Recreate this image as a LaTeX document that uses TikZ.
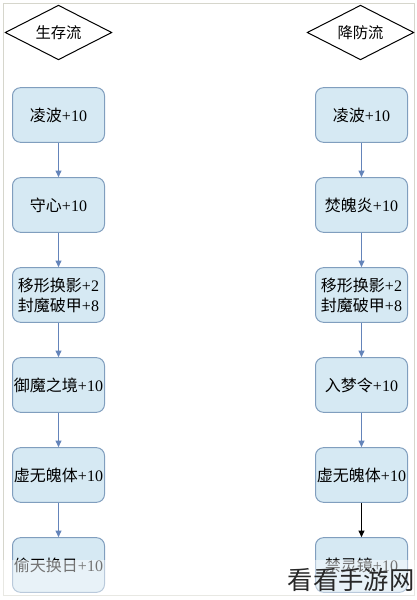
\documentclass[tikz,border=0pt]{standalone}
\usepackage{fontspec}
\setmainfont{Liberation Serif}
\newfontfamily\cjk{Noto Sans CJK SC}
\usetikzlibrary{shapes.geometric,arrows.meta}

\tikzset{every picture/.style={line width=0.75pt}}

\begin{document}
\begin{tikzpicture}[x=0.75pt,y=0.75pt,yscale=-1,xscale=1,
	flowhead/.style={draw=black, fill=white, diamond, aspect=2, inner sep=0pt, minimum width=80pt, minimum height=41pt, font=\fontsize{11.5}{14}\selectfont},
	stepbox/.style={draw={rgb, 255:red, 128; green, 158; blue, 190 }, fill={rgb, 255:red, 214; green, 233; blue, 243 }, rounded corners=6pt, minimum width=69pt, minimum height=41pt, inner sep=1pt, align=center, font=\fontsize{12}{15}\selectfont},
	link/.style={draw={rgb, 255:red, 100; green, 132; blue, 186 }, -{Triangle[length=5pt,width=4.5pt]}},
	darklink/.style={draw=black, -{Triangle[length=5pt,width=4.5pt]}}]
		\useasboundingbox (0,0) rectangle (417,600);
		%Shape: Frame
		\draw [draw={rgb, 255:red, 214; green, 214; blue, 204 }]  (3,3) -- (414,3) -- (414,595) -- (3,595) -- cycle ;
		
		%Shape: Diamond
		\node [flowhead] (lhead) at (58.5,32.5) {\cjk 生存流};
		\node [flowhead] (rhead) at (360.5,32.5) {\cjk 降防流};
		
		%Shape: Rounded Rect, left column
		\node [stepbox] (l1) at (58.5,115) {{\cjk 凌波}+10};
		\node [stepbox] (l2) at (58.5,205) {{\cjk 守心}+10};
		\node [stepbox] (l3) at (58.5,295) {{\cjk 移形换影}+2\\{\cjk 封魔破甲}+8};
		\node [stepbox] (l4) at (58.5,385) {{\cjk 御魔之境}+10};
		\node [stepbox] (l5) at (58.5,475) {{\cjk 虚无魄体}+10};
		\node [stepbox] (l6) at (58.5,565) {{\cjk 偷天换日}+10};
		
		%Shape: Rounded Rect, right column
		\node [stepbox] (r1) at (361.5,115) {{\cjk 凌波}+10};
		\node [stepbox] (r2) at (361.5,205) {{\cjk 焚魄炎}+10};
		\node [stepbox] (r3) at (361.5,295) {{\cjk 移形换影}+2\\{\cjk 封魔破甲}+8};
		\node [stepbox] (r4) at (361.5,385) {{\cjk 入梦令}+10};
		\node [stepbox] (r5) at (361.5,475) {{\cjk 虚无魄体}+10};
		\node [stepbox] (r6) at (361.5,565) {{\cjk 禁灵镜}+10};
		
		\draw [link]    (l1) -- (l2) ;
		\draw [link]    (l2) -- (l3) ;
		\draw [link]    (l3) -- (l4) ;
		\draw [link]    (l4) -- (l5) ;
		\draw [link]    (l5) -- (l6) ;
		\draw [link]    (r1) -- (r2) ;
		\draw [link]    (r2) -- (r3) ;
		\draw [link]    (r3) -- (r4) ;
		\draw [link]    (r4) -- (r5) ;
		\draw [darklink]    (r5) -- (r6) ;
		
		%faded strip at the bottom
		\fill [white, fill opacity=0.45]  (0,560) rectangle (417,600) ;
		\node [anchor=east, inner sep=0pt, text={rgb, 255:red, 40; green, 40; blue, 40 }, font=\cjk\fontsize{19}{20}\selectfont] (mark) at (415,580) {看看手游网};
		
	\end{tikzpicture}
\end{document}
